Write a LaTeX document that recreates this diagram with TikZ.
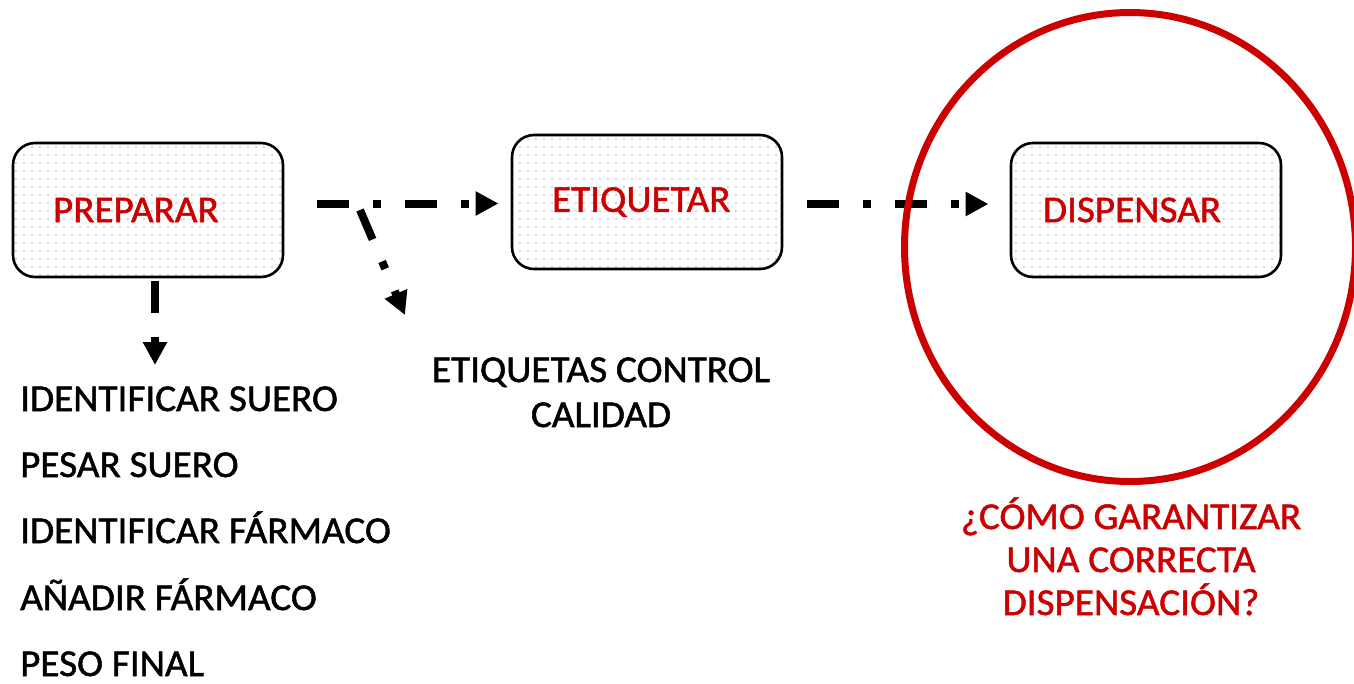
\documentclass[tikz,border=0pt]{standalone}
\usepackage{fontspec}
\setmainfont{Carlito}[FakeBold=1.3, FakeStretch=1.03]
\usetikzlibrary{arrows.meta,patterns.meta,shapes.geometric}
\definecolor{redc}{RGB}{204,0,0}
\definecolor{dotc}{RGB}{160,172,192}
\begin{document}
\begin{tikzpicture}[x=1pt,y=-1pt,
  stepbox/.style={draw=black, line width=2.6pt, rounded corners=22pt,
    minimum width=270pt, minimum height=134pt, outer sep=0pt, inner sep=0pt,
    pattern={Dots[distance=8pt,radius=0.9pt]}, pattern color=dotc,
    text=redc, text width=190pt, align=left,
    font=\fontsize{38}{45}\selectfont},
  blabel/.style={font=\fontsize{38}{45}\selectfont, inner sep=0pt, text depth=0pt},
  flow/.style={line width=8pt, dash pattern=on 32pt off 24pt on 8pt off 24pt,
    -{Triangle[length=23pt,width=23pt]}},
]
\path[fill=white, use as bounding box] (0,0) rectangle (1354,683);

% process boxes
\node[stepbox] (prep) at (148,210) {PREPARAR};
\node[stepbox] (etq) at (647,202) {ETIQUETAR};
\node[stepbox, text width=206pt] (disp) at (1146,210) {DISPENSAR};

% connector end points
\coordinate (a1) at (317,203.5);
\coordinate (a2) at (807,204);
\coordinate (b0) at (360,210);
\coordinate (b1) at (405,315);
\coordinate (c1) at (155,365);

\draw[flow, shorten >=13.5pt] (a1) -- (a1 -| etq.west);
\draw[flow, shorten >=22.5pt] (a2) -- (a2 -| disp.west);
\draw[flow] (b0) -- (b1);
\draw[flow, shorten <=3.5pt] (prep.south -| c1) -- (c1);

% list of steps
\node[blabel, anchor=base west] (l1) at (20,411) {IDENTIFICAR SUERO};
\node[blabel, anchor=base west] (l2) at (20,477) {PESAR SUERO};
\node[blabel, anchor=base west] (l3) at (20,543) {IDENTIFICAR FÁRMACO};
\node[blabel, anchor=base west] (l4) at (20,610) {AÑADIR FÁRMACO};
\node[blabel, anchor=base west] (l5) at (20,676) {PESO FINAL};

% labels
\node[blabel, anchor=base] (e1) at (601,382) {ETIQUETAS CONTROL};
\node[blabel, anchor=base] (e2) at (601,427) {CALIDAD};

\node[blabel, text=redc, anchor=base] (q1) at (1131,529) {¿CÓMO GARANTIZAR};
\node[blabel, text=redc, anchor=base] (q2) at (1131,572) {UNA CORRECTA};
\node[blabel, text=redc, anchor=base] (q3) at (1131,615) {DISPENSACIÓN?};

% highlight circle
\node[ellipse, draw=redc, line width=7pt, minimum width=451pt,
  minimum height=469pt, inner sep=0pt] (focus) at (1130,247) {};
\end{tikzpicture}
\end{document}
